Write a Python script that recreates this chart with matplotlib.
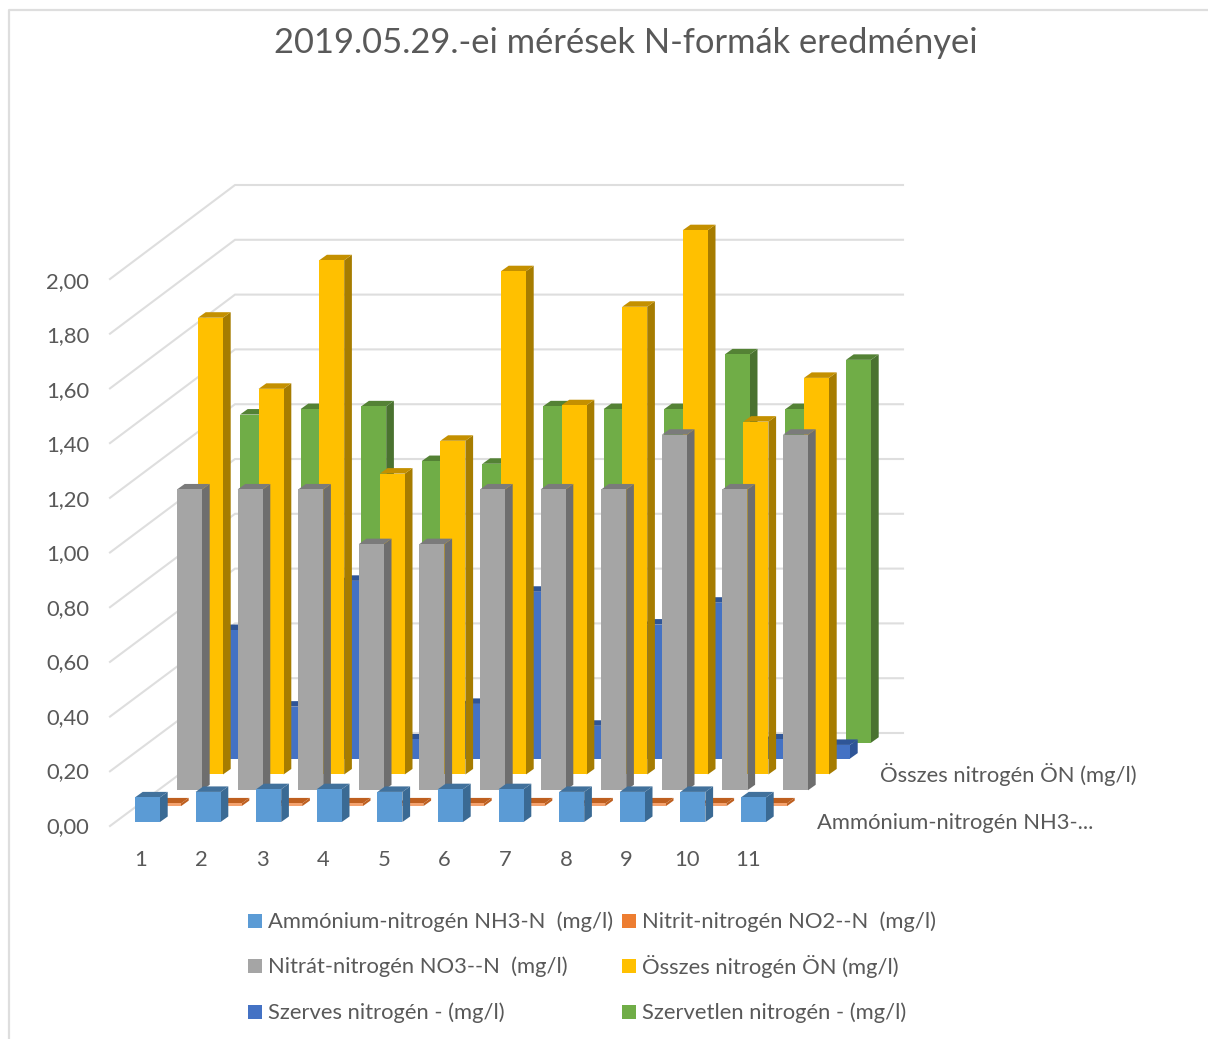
import matplotlib
matplotlib.use("Agg")
import matplotlib.pyplot as plt
from matplotlib.patches import Polygon, Rectangle

plt.rcParams['font.family'] = ['Lato', 'DejaVu Sans']

title = "2019.05.29.-ei mérések N-formák eredményei"
categories = ["1", "2", "3", "4", "5", "6", "7", "8", "9", "10", "11"]
y_ticks = [0.0, 0.2, 0.4, 0.6, 0.8, 1.0, 1.2, 1.4, 1.6, 1.8, 2.0]
y_tick_labels = ["0,00", "0,20", "0,40", "0,60", "0,80", "1,00", "1,20", "1,40", "1,60", "1,80", "2,00"]

ammonium = [0.09, 0.11, 0.12, 0.12, 0.11, 0.12, 0.12, 0.11, 0.11, 0.11, 0.09]
nitrit = [0.01, 0.01, 0.01, 0.01, 0.01, 0.01, 0.01, 0.01, 0.01, 0.01, 0.01]
nitrat = [1.10, 1.10, 1.10, 0.90, 0.90, 1.10, 1.10, 1.10, 1.30, 1.10, 1.30]
osszes = [1.67, 1.41, 1.88, 1.10, 1.22, 1.84, 1.35, 1.71, 1.99, 1.29, 1.45]
szerves = [0.47, 0.19, 0.65, 0.07, 0.20, 0.61, 0.12, 0.49, 0.57, 0.07, 0.05]
szervetlen = [1.20, 1.22, 1.23, 1.03, 1.02, 1.23, 1.22, 1.22, 1.42, 1.22, 1.40]

series_names = [
    "Ammónium-nitrogén NH3-N  (mg/l)",
    "Nitrit-nitrogén NO2--N  (mg/l)",
    "Nitrát-nitrogén NO3--N  (mg/l)",
    "Összes nitrogén ÖN (mg/l)",
    "Szerves nitrogén - (mg/l)",
    "Szervetlen nitrogén - (mg/l)",
]
series_values = [ammonium, nitrit, nitrat, osszes, szerves, szervetlen]

# front, side, top colour per series
colors = [
    ("#5B9BD5", "#3A6A94", "#41719C"),
    ("#F4A26E", "#BE5F1F", "#BE5F1F"),
    ("#A5A5A5", "#6E6E6E", "#7B7B7B"),
    ("#FFC000", "#A67C00", "#C49000"),
    ("#4472C4", "#2F5597", "#2F5597"),
    ("#70AD47", "#4A7230", "#548235"),
]
legend_colors = ["#5B9BD5", "#ED7D31", "#A5A5A5", "#FFC000", "#4472C4", "#70AD47"]

TEXT = "#595959"
GRID = "#DEDEDE"

# oblique projection of the 3D box onto the page
X0, CAT_STEP, SERIES_DX = 135, 60.6, 21
BASE_Y, SERIES_DY, PX_PER_UNIT = 822, 15.85, 273.5
BAR_W, DEPTH_X, DEPTH_Y = 25, 7.7, 5.5


def draw_bar(ax, i, s, value, face, side, top):
    x = X0 + CAT_STEP * i + SERIES_DX * s
    y0 = BASE_Y - SERIES_DY * s
    y1 = y0 - PX_PER_UNIT * value
    ax.add_patch(Polygon([(x + BAR_W, y0), (x + BAR_W + DEPTH_X, y0 - DEPTH_Y),
                          (x + BAR_W + DEPTH_X, y1 - DEPTH_Y), (x + BAR_W, y1)],
                         facecolor=side, edgecolor='none', zorder=3))
    ax.add_patch(Polygon([(x, y1), (x + BAR_W, y1), (x + BAR_W + DEPTH_X, y1 - DEPTH_Y),
                          (x + DEPTH_X, y1 - DEPTH_Y)],
                         facecolor=top, edgecolor='none', zorder=3))
    ax.add_patch(Rectangle((x, y1), BAR_W, y0 - y1, facecolor=face, edgecolor='none', zorder=3))


fig = plt.figure(figsize=(12.08, 10.39), dpi=100)
ax = fig.add_axes([0, 0, 1, 1])
ax.set_xlim(0, 1208)
ax.set_ylim(1039, 0)
ax.axis('off')

# chart border
ax.plot([9, 9, 1208], [1039, 10, 10], color=GRID, lw=1.6, zorder=1)

# gridlines on the side and back walls
for v in y_ticks:
    ax.plot([110, 235, 903], [826 - PX_PER_UNIT * v, 733 - 274 * v, 733 - 274 * v],
            color=GRID, lw=1.5, solid_joinstyle='miter', zorder=1)

# back series first so the nearer ones cover them
for s in range(len(series_values) - 1, -1, -1):
    for i, value in enumerate(series_values[s]):
        draw_bar(ax, i, s, value, *colors[s])

ax.text(626, 43, title, fontsize=24.8, color=TEXT, ha='center', va='center')

for v, label in zip(y_ticks, y_tick_labels):
    ax.text(89, 827 - 272.5 * v, label, fontsize=15.8, color=TEXT, ha='right', va='center')

for i, label in enumerate(categories):
    ax.text(141 + 60.7 * i, 860, label, fontsize=15.8, color=TEXT, ha='center', va='center')

ax.text(880, 775, "Összes nitrogén ÖN (mg/l)", fontsize=15.8, color=TEXT, ha='left', va='center')
ax.text(817, 823, "Ammónium-nitrogén NH3-...", fontsize=15.8, color=TEXT, ha='left', va='center')

# legend, two columns and three rows
legend_x = [248, 622]
legend_y = [921, 966, 1012]
for n, name in enumerate(series_names):
    lx = legend_x[n % 2]
    ly = legend_y[n // 2]
    ax.add_patch(Rectangle((lx, ly - 7), 14, 14, facecolor=legend_colors[n], edgecolor='none'))
    ax.text(lx + 20, ly + 1, name, fontsize=15.8, color=TEXT, ha='left', va='center')

fig.savefig("out.png", dpi=100)
